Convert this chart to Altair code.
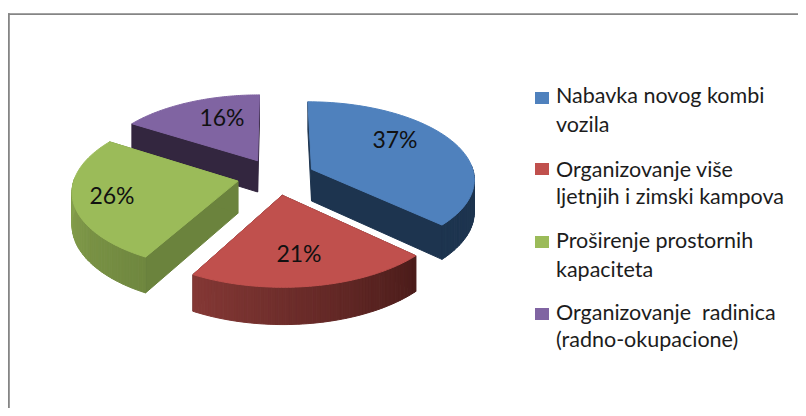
import numpy as np
import altair as alt

# ---- data ----
categories = ["Nabavka novog kombi vozila", "Organizovanje više ljetnjih i zimski kampova",
              "Proširenje prostornih kapaciteta", "Organizovanje radinica (radno-okupacione)"]
shares = [37, 21, 26, 16]
legend_lines = [["Nabavka novog kombi", "vozila"],
                ["Organizovanje više", "ljetnjih i zimski kampova"],
                ["Proširenje prostornih", "kapaciteta"],
                ["Organizovanje\u00a0 radinica", "(radno-okupacione)"]]
share_labels = ["37%", "21%", "26%", "16%"]

# ---- styles ----
top_colors = ["#4f81bd", "#c0504d", "#9bbb59", "#8064a2"]
radial_colors = ["#1d344f", "#4e1f1d", "#6b833d", "#33263f"]
# outer wall colour at slice start / end angle
wall_start = ["#1d344f", "#4c1d1b", "#6f873f", "#33263f"]
wall_end = ["#1d344f", "#843835", "#93ae55", "#33263f"]

# ---- layout (page pixels) ----
OX, OY = 8, 8
CX, CY, RX, RY, K, EXPL, DEPTH = 276, 176.5, 163, 76.8, 0.115, 0.24, 32
label_pos = [(395, 141), (299, 255), (112, 197), (222, 119)]
legend_sq_y = [92, 163, 236, 308]
legend_base_y = [(103, 132), (177, 204), (248, 277), (320, 347)]
FRAME = (8, 13.3, 798, 408)


def project(X, Y, lift=0.0):
    s = 1 / (1 - K * Y)
    return [float(CX + RX * X * s - OX), float(CY + RY * Y * s + lift * s - OY)]


def hexmix(a, b, t):
    ca = np.array([int(a[i:i + 2], 16) for i in (1, 3, 5)], float)
    cb = np.array([int(b[i:i + 2], 16) for i in (1, 3, 5)], float)
    c = ca + (cb - ca) * t
    return "#%02x%02x%02x" % tuple(int(round(v)) for v in c)


def feature(points, color, order):
    return {"type": "Feature",
            "geometry": {"type": "Polygon", "coordinates": [points + [points[0]]]},
            "properties": {"fill": color, "order": order}}


edges = np.cumsum([0] + shares) / 100 * 2 * np.pi
paint = {0: 2, 1: 3, 2: 2, 3: 1}  # back-to-front painting rank
features = []
for i in range(len(shares)):
    a0, a1 = edges[i], edges[i + 1]
    mid = (a0 + a1) / 2
    tx, ty = EXPL * np.sin(mid), -EXPL * np.cos(mid)
    angs = np.linspace(a0, a1, 73)
    px = tx + np.sin(angs)
    py = ty - np.cos(angs)
    rank = paint[i] * 1000
    # radial walls
    for edge_idx, a in ((0, 0), (-1, 1)):
        wall = [project(tx, ty), project(px[edge_idx], py[edge_idx]),
                project(px[edge_idx], py[edge_idx], DEPTH), project(tx, ty, DEPTH)]
        features.append(feature(wall, radial_colors[i], rank + 1 + a))
    # outer wall as shaded strips
    for j in range(len(angs) - 1):
        if np.cos((angs[j] + angs[j + 1]) / 2) > 0.05:
            continue  # back side is hidden
        t = j / (len(angs) - 2)
        col = hexmix(wall_start[i], wall_end[i], t)
        strip = [project(px[j], py[j]), project(px[j + 1], py[j + 1]),
                 project(px[j + 1], py[j + 1], DEPTH), project(px[j], py[j], DEPTH)]
        features.append(feature(strip, col, rank + 10 + j))
    # top face
    top = [project(tx, ty)] + [project(x, y) for x, y in zip(px, py)]
    features.append(feature(top, top_colors[i], rank + 500))

features.sort(key=lambda f: f["properties"]["order"])

W, H = 790, 400
pie = (alt.Chart(alt.Data(values=features, format=alt.DataFormat(type="json")))
       .mark_geoshape(strokeWidth=1)
       .encode(color=alt.Color("properties.fill:N", scale=None),
               stroke=alt.Color("properties.fill:N", scale=None))
       .project(type="identity", scale=1, translate=[0, 0], reflectY=False))

layers = []


def frame_rule(x, x2, y, y2):
    return (alt.Chart(alt.Data(values=[{"a": 0}]))
            .mark_rect(color="#858585")
            .encode(x=alt.value(x), x2=alt.value(x2), y=alt.value(y), y2=alt.value(y2)))


fx0, fy0, fx1, fy1 = FRAME[0] - OX, FRAME[1] - OY, FRAME[2] - OX, FRAME[3] - OY
layers.append(frame_rule(fx0, fx0 + 1.8, fy0, fy1))
layers.append(frame_rule(fx0, fx1, fy0, fy0 + 1.6))
layers.append(pie)

for txt, (lx, ly) in zip(share_labels, label_pos):
    layers.append(alt.Chart(alt.Data(values=[{"t": txt}]))
                  .mark_text(font="Lato", fontSize=23, color="#111111", align="center", baseline="middle")
                  .encode(text="t:N", x=alt.value(lx - OX), y=alt.value(ly - OY)))

for i, lines in enumerate(legend_lines):
    sy = legend_sq_y[i] - OY
    layers.append(alt.Chart(alt.Data(values=[{"c": categories[i]}]))
                  .mark_rect(color=top_colors[i])
                  .encode(x=alt.value(535 - OX), x2=alt.value(549 - OX), y=alt.value(sy), y2=alt.value(sy + 12)))
    for line, by in zip(lines, legend_base_y[i]):
        layers.append(alt.Chart(alt.Data(values=[{"t": line}]))
                      .mark_text(font="Lato", fontSize=21.5, color="#1c1c1c", align="left", baseline="alphabetic")
                      .encode(text="t:N", x=alt.value(556 - OX), y=alt.value(by - OY)))

chart = (alt.layer(*layers)
         .properties(width=W, height=H, padding=0, autosize=alt.AutoSizeParams(type="none"), background="white")
         .configure_view(stroke=None))
chart.save("out.html", embed_options={"renderer": "svg", "actions": False})
